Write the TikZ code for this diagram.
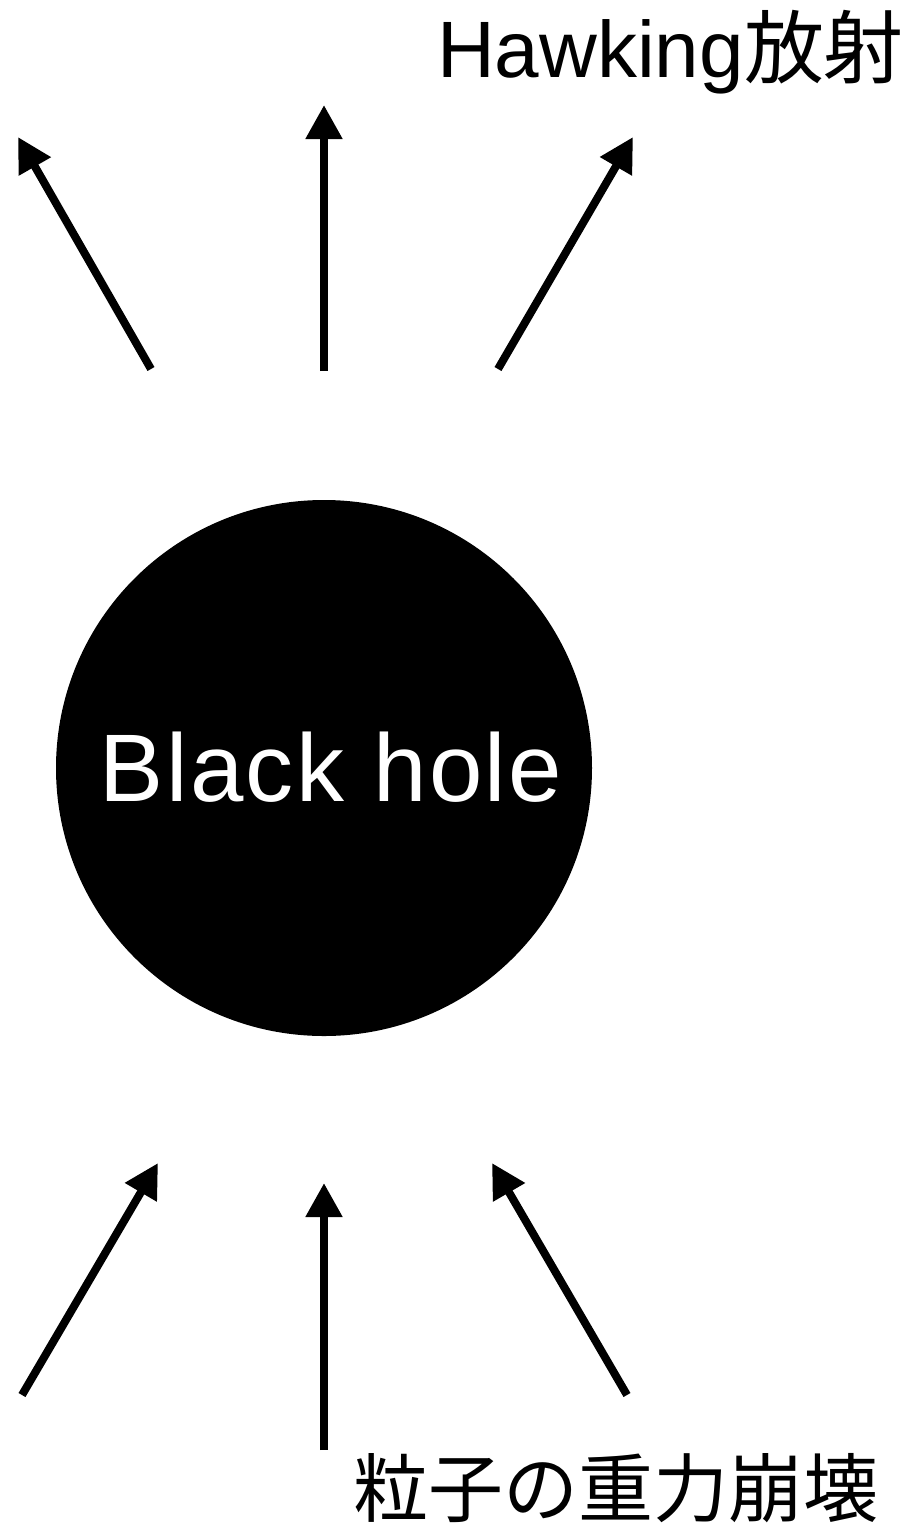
\documentclass[tikz,border=0pt]{standalone}
\usepackage{fontspec}
\setmainfont{Noto Sans CJK JP}
\newfontfamily\lat{Liberation Sans}
\newfontfamily\latwide{Liberation Sans}[LetterSpace=2.5]
\usetikzlibrary{arrows.meta}
\tikzset{
  ray/.style={line width=8pt, -{Triangle[length=34pt,width=35pt]}},
  toplabel/.style={inner sep=0pt, font=\fontsize{80pt}{90pt}\selectfont},
  botlabel/.style={inner sep=0pt, font=\fontsize{75pt}{85pt}\selectfont}
}
\begin{document}
\begin{tikzpicture}[x=1pt,y=-1pt]
\useasboundingbox (0,0) rectangle (911,1527);
\node[circle, fill=black, minimum size=536pt, inner sep=0pt] (bh) at (324,768) {};
\node[anchor=base, text=white, inner sep=0pt, font=\latwide\fontsize{96pt}{105pt}\selectfont] (bhl) at (331,801) {Black hole};
% top arrows
\coordinate (t1s) at (151,369); \coordinate (t1e) at (18,137);
\coordinate (t2s) at (324,371); \coordinate (t2e) at (324,105);
\coordinate (t3s) at (498,369); \coordinate (t3e) at (633,137);
\draw[ray] (t1s) -- (t1e);
\draw[ray] (t2s) -- (t2e);
\draw[ray] (t3s) -- (t3e);
% bottom arrows
\coordinate (b1s) at (22,1395); \coordinate (b1e) at (158,1163);
\coordinate (b2s) at (324,1450); \coordinate (b2e) at (324,1183);
\coordinate (b3s) at (627,1395); \coordinate (b3e) at (492,1163);
\draw[ray] (b1s) -- (b1e);
\draw[ray] (b2s) -- (b2e);
\draw[ray] (b3s) -- (b3e);
\node[toplabel, anchor=base west] (top) at (437,77) {{\lat Hawking}放射};
\node[botlabel, anchor=base] (bot) at (616,1516) {粒子の重力崩壊};
\end{tikzpicture}
\end{document}
